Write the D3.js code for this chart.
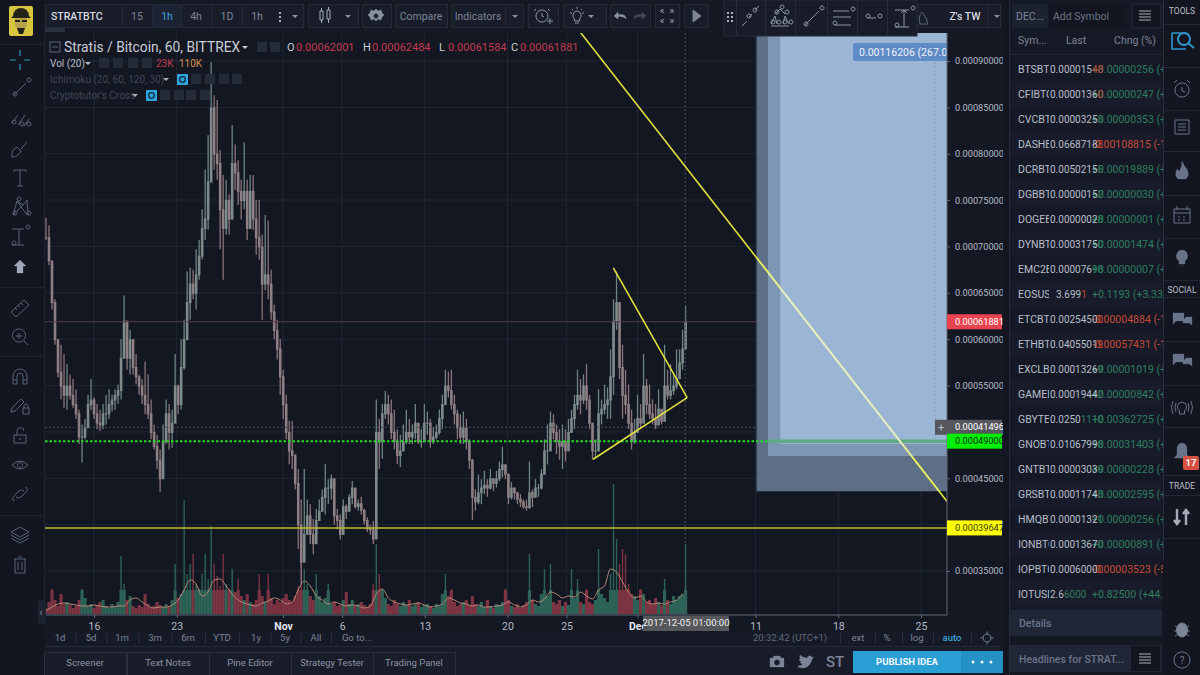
<!DOCTYPE html>
<html>
<head>
<meta charset="utf-8">
<title>Stratis / Bitcoin, 60, BITTREX</title>
<script src="https://d3js.org/d3.v7.min.js"></script>
<style>
  html, body { margin: 0; padding: 0; background: #141823; overflow: hidden; }
  text { font-family: Roboto, "Open Sans", sans-serif; }
</style>
</head>
<body>
<svg id="chart" width="1200" height="675"></svg>
<script>
// prices are in units of 0.00001 BTC, one bar every 6.1 hours
var barStart = Date.UTC(2017, 9, 11, 22, 30);
var barHours = 6.1;

var highs = [
  73.1,72.3,68.4,64.3,60,59.4,58.4,57.3,56.2,55.7,
  54.6,52.4,50.8,51.4,54,55.7,53.7,53,52.4,53,
  54,54.6,54,54.6,55.1,60,64.7,61.6,61,59.4,
  58.4,56.2,55.7,57.6,56.2,53.5,50.8,49.7,48.1,50.8,
  53.5,53,52.4,58.4,55.1,60,62.1,67.3,67.7,67.5,
  69.7,70.7,74,78.3,82,89.9,86.3,85.8,80.4,77.7,
  77.2,75.6,83.1,81,79.3,77.2,81.2,77.2,77.7,77.7,
  75,75,71.3,73.4,72.8,67.5,63.7,62.1,60,56.7,
  54,51.2,51.2,47.6,46,42.7,46,42.7,42.2,40.6,
  41.7,42.7,43.8,46.5,44.9,45.4,43.8,41.7,41.1,42.7,
  42.2,43.3,44.7,43.3,42.7,43,41.7,40.8,40,40.4,
  53.5,51.4,53,54.4,54,53.5,52.4,50.3,49.7,50.8,
  52.4,51.4,50.8,53,50.8,50.3,53,52.2,51.4,50.5,
  50.8,52.4,54,56.7,56.5,56.7,54,52.4,51.9,52.2,
  51.4,49.2,47.1,43.8,45.4,44.9,45.8,44.9,46,44.9,
  45.8,46.8,48.4,46.5,44.9,44.6,44,43.5,43.3,42.7,
  42.7,46.8,43.8,44.9,44.4,46,49.2,50.8,52.2,51.9,
  50.8,50.3,50.8,50.3,51.4,52.4,54,56.7,55.7,56.2,
  57.3,54,50.8,49.2,54.6,53.5,55.1,54.8,58.9,64.3,
  67.3,62.1,59.4,56.7,55.1,52.4,51.4,54,53,58.4,
  55.7,55.1,53.5,53,54.6,52.4,59.4,56.7,57.3,56.2,
  58.9,58.9,61,63.6
];
var lows = [
  70.7,68,63.2,59.4,55.9,53.5,52.6,52.4,53.5,52.6,
  51.4,48.7,46.7,49.2,50.8,52.4,51.4,50.3,50.1,50.3,
  50.8,51.4,52.2,52.4,53,53.5,59.4,56.7,56.2,56.2,
  55.1,54,53,51.9,51.4,49.2,48.1,46,43.5,45.4,
  48.7,48.1,48.3,51.4,51.9,52.4,56.7,61,62.1,64.3,
  63.2,66.4,68.6,70.7,71.8,80.4,78.3,77.2,69.7,66.4,
  71.3,71.3,75,76.1,74.5,72.9,74,70.7,72.3,71.8,
  69.1,68.6,62.1,65.3,64.3,62.1,60,57.8,54,51.4,
  49.2,46.5,46,43.8,37.4,33.6,36.8,39.5,37.9,36.8,
  38.4,40.6,41.7,41.1,42.2,42.7,40,39.5,38.4,41.1,
  40.6,41.7,42.2,41.7,41.5,41.1,40,39.2,38.9,37.9,
  39,46,47.1,51.4,50.8,49.2,48.1,46.5,46.2,48.1,
  48.7,48.7,48.7,49.2,48.7,48.3,49.2,49.7,48.3,48.7,
  49.2,49.7,50.3,53.5,53.7,52.4,50.8,49.2,48.7,48.7,
  48.1,46,40.5,41.5,42.2,42.2,43.3,43,43.8,43.6,
  44,44.7,45.1,44.9,42.2,42.7,42.7,42.2,41.9,41.7,
  41.5,41.7,41.9,43,43,43.8,45.4,46.5,48.1,49.2,
  47.6,47,46,46.8,48.1,50,50.3,52.4,51.9,53,
  52.4,50.3,47,47.3,48.1,50.8,51.9,51.4,51.4,54,
  61,55.7,51.4,51.9,50.3,48.1,48.7,50.3,50.3,52.4,
  51.9,51.4,50.8,50.3,51.4,50.8,51.9,53.5,53.5,54,
  54.6,56.2,56.7,60
];
var closes = [
  71,68.5,64,60,56.5,55,54,55,54,53,
  52,49.5,49.5,50.5,53,53.5,52,51,50.8,52,
  52,53,53.5,54,54.5,58,62,58,60,57,
  56,55,54,53,52,50,48.5,47,45,49,
  52,50,51,55,53,57,60,64,66,65,
  67,69,72,73,77,85,80,79,74,72,
  75,73,79,78,76,75,76,72,76,73,
  71,70,66,67,66,63,61,59,56,53,
  50,48,47.5,44.5,40,36,39,41,39,38,
  40.5,41.5,43,44,44,45,41,40.5,39,42,
  41.5,43,44,42,42.3,41.6,40.5,39.6,39.5,38.5,
  50,49,52,53,52,50,49,47.5,48,49,
  50,49.5,50,51,49,49,51,51,49,49.5,
  50,51.5,53,55,54.5,53,52,50.5,49.5,50.5,
  49,47,43,42.5,43.5,44,44.3,44,45,44.5,
  45,46,46.5,45.5,43,44,43.5,42.8,42.5,42,
  41.9,43.5,43,44,44,45.5,48,48,51,50,
  49,48.5,49,48,50,51.5,53,54,53.5,55,
  53.5,51,48,48,52,52.5,53,53.5,56,62,
  64,57,54,53,51,49,50,51.5,51,55,
  53,52,51.5,50.8,52.5,51.2,55,54,54.5,55,
  55.8,57.5,59,61.9
];
var volumes = [
  6,12,25,14,8,20,10,12,9,6,
  8,14,25,16,8,10,6,9,12,14,
  8,6,10,7,12,58,30,14,18,8,
  6,9,7,20,10,6,8,12,9,7,
  10,8,14,50,16,20,114,40,50,60,
  30,25,40,60,35,88,50,38,28,60,
  30,25,45,22,35,18,14,20,12,10,
  14,40,18,12,40,16,10,14,12,16,
  20,14,12,18,28,65,45,30,18,14,
  40,18,12,16,30,10,12,8,9,14,
  22,10,14,8,10,12,9,7,10,30,
  70,40,25,16,10,8,14,10,8,12,
  9,14,8,10,12,7,9,10,8,6,
  10,8,20,40,18,25,12,8,10,12,
  14,9,18,10,8,12,7,14,8,6,
  10,9,12,25,14,8,7,10,6,9,
  12,60,14,10,8,20,45,18,50,12,
  10,14,8,12,9,45,16,35,12,10,
  25,12,10,14,65,20,16,12,40,130,
  75,50,65,60,30,20,18,14,25,20,
  12,14,10,16,12,9,35,14,10,18,
  14,18,20,70
];
// volume average, one reading every second bar
var volumeAvg = [
  3,7,10,11,10,9,8,8,9,8,
  7,7,8,8,14,16,12,8,6,7,
  7,9,14,24,34,30,18,22,34,35,
  28,20,14,11,9,8,11,13,16,14,
  10,12,24,33,28,18,14,10,12,10,
  8,9,8,6,8,20,25,16,12,10,
  9,10,11,9,7,8,10,16,14,11,
  10,8,9,7,7,8,9,12,9,7,
  9,14,12,15,22,20,16,18,17,22,
  18,15,24,28,45,42,32,22,16,18,
  12,10,11,10,12,14,20
];

var priceTicks = [90, 85, 80, 75, 70, 65, 60, 55, 50, 45, 40, 35];
var dateTicks = ["2017-10-16", "2017-10-23", "2017-11-01", "2017-11-06", "2017-11-13", "2017-11-20",
                 "2017-11-25", "2017-12-01", "2017-12-11", "2017-12-18", "2017-12-25"];
var dateLabels = ["16", "23", "Nov", "6", "13", "20", "25", "Dec", "11", "18", "25"];

// drawings on the chart: dates and prices
var levelLast = 61.881, levelEntry = 49, levelStop = 39.647, levelCross = 50.5;
var crossDate = "2017-12-05T01:00Z";
var trendLines = [
  [["2017-11-26T04:00Z", 93.1], ["2017-12-28T06:00Z", 40.8]],
  [["2017-11-28T23:00Z", 67.7], ["2017-12-05T05:00Z", 53.7]],
  [["2017-11-27T06:00Z", 47.05], ["2017-12-05T05:00Z", 53.7]]
];
var boxStarts = ["2017-12-11T02:00Z", "2017-12-12T01:00Z", "2017-12-13T02:00Z"];
var boxBottoms = [43.6, 47.4, 48.7];
var boxFills = ["#5d6f86", "#7e96b3", "#9bb5d4"];
var boxLines = ["#e6ec66", "#e0e9a6", "#dfe9d6"];

// watchlist
var symbols = ["BTSBTC","CFIBTC","CVCBTC","DASHBTC","DCRBTC","DGBBTC","DOGEBTC","DYNBTC","EMC2BTC","EOSUSD","ETCBTC",
               "ETHBTC","EXCLBTC","GAMEBTC","GBYTEBTC","GNOBTC","GNTBTC","GRSBTC","HMQBTC","IONBTC","IOPBTC","IOTUSD"];
var lastHead = ["0.000015","0.0000136","0.0000325","0.0668718","0.0050215","0.0000015","0.0000002","0.0003175","0.000076","3.699","0.0025450",
                "0.0405501","0.0001326","0.0001944","0.0250","0.0106799","0.0000303","0.0001174","0.0000132","0.0001367","0.0006000","2.6"];
var lastTail = ["48","0","3","8","5","2","8","0","98","1","0","9","9","2","1110","8","9","3","1","0","0","6000"];
var tailUp = [0,0,1,0,1,1,1,1,1,0,0,0,1,1,1,1,1,1,1,1,0,1];
var changes = ["+0.00000256 (+19.8%)","+0.00000247 (+22.2%)","+0.00000353 (+12.2%)","-0.00108815 (-1.60%)","+0.00019889 (+4.12%)",
               "+0.00000030 (+24.6%)","+0.00000001 (+3.70%)","+0.00001474 (+4.87%)","+0.00000007 (+0.92%)","+0.1193 (+3.33%)",
               "-0.00004884 (-1.88%)","-0.00057431 (-1.40%)","+0.00001019 (+8.32%)","+0.00000842 (+4.53%)","+0.00362725 (+16.9%)",
               "+0.00031403 (+3.03%)","+0.00000228 (+8.11%)","+0.00002595 (+28.4%)","+0.00000256 (+24.0%)","+0.00000891 (+6.97%)",
               "-0.00003523 (-5.55%)","+0.82500 (+44.9%)"];

var intervals = ["15", "1h", "4h", "1D", "1h"];
var rangeLabels = ["1d", "5d", "1m", "3m", "6m", "YTD", "1y", "5y", "All", "Go to..."];
var tabLabels = ["Screener", "Text Notes", "Pine Editor", "Strategy Tester", "Trading Panel"];

var svg = d3.select("#chart");
var paneLeft = 45, paneRight = 947, paneTop = 33, paneBottom = 615;

var x = d3.scaleUtc().domain([new Date("2017-10-16"), new Date("2017-12-25")]).range([94, 921]);
var y = d3.scaleLinear().domain([90, 35]).range([61, 571]);
var yVol = d3.scaleLinear().domain([0, 130]).range([614, 484]);
var barDate = function(i) { return new Date(barStart + i * barHours * 3600000); };

function box(g, bx, by, w, h, fill, stroke) {
  return g.append("rect").attr("x", bx).attr("y", by).attr("width", w).attr("height", h)
    .attr("fill", fill).attr("stroke", stroke || "none");
}
function label(g, tx, ty, s, size, color, anchor, weight) {
  return g.append("text").attr("x", tx).attr("y", ty).attr("dy", "0.35em")
    .attr("text-anchor", anchor || "start").attr("font-size", size).attr("fill", color)
    .attr("font-weight", weight || 400).text(s);
}
function icon(g, cx, cy, d, color, fill, w) {
  return g.append("path").attr("transform", "translate(" + cx + "," + cy + ")").attr("d", d)
    .attr("fill", fill || "none").attr("stroke", color || "#69738a").attr("stroke-width", w || 1);
}
var defs = svg.append("defs");
function clip(id, cx, cy, w, h) {
  defs.append("clipPath").attr("id", id).append("rect").attr("x", cx).attr("y", cy).attr("width", w).attr("height", h);
  return "url(#" + id + ")";
}

box(svg, 0, 0, 1200, 675, "#141823");

// --- chart pane ---
box(svg, paneLeft, paneTop, paneRight - paneLeft, paneBottom - paneTop, "#131722");
var paneClip = clip("pane", paneLeft, paneTop, paneRight - paneLeft, paneBottom - paneTop);
var pane = svg.append("g").attr("clip-path", paneClip);

pane.append("g").selectAll("line").data(priceTicks).enter().append("line")
  .attr("x1", paneLeft).attr("x2", paneRight)
  .attr("y1", function(d) { return y(d); }).attr("y2", function(d) { return y(d); })
  .attr("stroke", "#212634");
pane.append("g").selectAll("line").data(dateTicks).enter().append("line")
  .attr("y1", paneTop).attr("y2", paneBottom)
  .attr("x1", function(d) { return x(new Date(d)); }).attr("x2", function(d) { return x(new Date(d)); })
  .attr("stroke", "#212634");

// volume: dense low part and thin spikes
var bars = d3.range(highs.length);
var isUp = function(i) { return i > 0 && closes[i] >= closes[i - 1]; };
var volColor = function(i) { return isUp(i) ? "#2d6356" : "#7c3342"; };
pane.append("g").selectAll("rect").data(bars).enter().append("rect")
  .attr("x", function(i) { return x(barDate(i)) - 0.7; }).attr("width", 1.4)
  .attr("y", function(i) { return yVol(volumes[i]); })
  .attr("height", function(i) { return yVol(0) - yVol(volumes[i]); })
  .attr("fill", volColor);
pane.append("g").selectAll("rect").data(bars).enter().append("rect")
  .attr("x", function(i) { return x(barDate(i)) - 1.6; }).attr("width", 3.2)
  .attr("y", function(i) { return yVol(Math.min(volumes[i], 24)); })
  .attr("height", function(i) { return yVol(0) - yVol(Math.min(volumes[i], 24)); })
  .attr("fill", volColor);
pane.append("path")
  .attr("d", d3.line().curve(d3.curveMonotoneX)
    .x(function(d, i) { return x(barDate(i * 2)); })
    .y(function(d) { return yVol(d); })(volumeAvg))
  .attr("fill", "none").attr("stroke", "#c4907a").attr("stroke-width", 0.9);

// candles
var candles = pane.append("g");
candles.selectAll("line").data(bars).enter().append("line")
  .attr("x1", function(i) { return x(barDate(i)); }).attr("x2", function(i) { return x(barDate(i)); })
  .attr("y1", function(i) { return y(highs[i]); }).attr("y2", function(i) { return y(lows[i]); })
  .attr("stroke", function(i) { return isUp(i) ? "#6e8482" : "#8a7379"; })
  .attr("stroke-width", 1.3);
candles.selectAll("rect").data(bars).enter().append("rect")
  .attr("x", function(i) { return x(barDate(i)) - 1.3; }).attr("width", 2.6)
  .attr("y", function(i) { return y(Math.max(closes[i], i ? closes[i - 1] : closes[i])); })
  .attr("height", function(i) { return Math.abs(y(closes[i]) - y(i ? closes[i - 1] : closes[i])) + 1; })
  .attr("fill", function(i) { return isUp(i) ? "#7f8a8b" : "#8d7f83"; });

// crosshair and level lines under the boxes
var dateX = function(s) { return x(new Date(s)); };
pane.append("line").attr("x1", paneLeft).attr("x2", paneRight).attr("y1", y(levelLast)).attr("y2", y(levelLast))
  .attr("stroke", "#563a48");
pane.append("line").attr("x1", paneLeft).attr("x2", paneRight).attr("y1", y(levelCross)).attr("y2", y(levelCross))
  .attr("stroke", "#4b5060").attr("stroke-dasharray", "2,2");
pane.append("line").attr("x1", dateX(crossDate)).attr("x2", dateX(crossDate)).attr("y1", paneTop).attr("y2", paneBottom)
  .attr("stroke", "#4b5060").attr("stroke-dasharray", "2,2");

// the long position boxes
boxStarts.forEach(function(s, k) {
  box(pane, dateX(s), paneTop, paneRight - dateX(s), y(boxBottoms[k]) - paneTop, boxFills[k]);
});
pane.append("line").attr("x1", 935).attr("x2", 935).attr("y1", 62).attr("y2", y(boxBottoms[2]))
  .attr("stroke", "#86a0c0").attr("stroke-dasharray", "2,2");

// green entry level, dashed on the dark part and solid on the boxes
pane.append("line").attr("x1", paneLeft).attr("x2", dateX(boxStarts[1])).attr("y1", y(levelEntry)).attr("y2", y(levelEntry))
  .attr("stroke", "#22dd22").attr("stroke-width", 2).attr("stroke-dasharray", "2.5,2");
pane.append("line").attr("x1", dateX(boxStarts[1])).attr("x2", paneRight).attr("y1", y(levelEntry)).attr("y2", y(levelEntry))
  .attr("stroke", "#62ab82").attr("stroke-width", 3.5);
pane.append("line").attr("x1", paneLeft).attr("x2", paneRight).attr("y1", y(levelStop)).attr("y2", y(levelStop))
  .attr("stroke", "#bcbc30").attr("stroke-width", 1.5);

// yellow trend lines
var seg = d3.line().x(function(d) { return dateX(d[0]); }).y(function(d) { return y(d[1]); });
trendLines.forEach(function(l) {
  pane.append("path").attr("d", seg(l)).attr("stroke", "#e0e03c").attr("stroke-width", 1.6).attr("fill", "none");
});
// the long line turns pale where it crosses the boxes
boxStarts.forEach(function(s, k) {
  var c = clip("bx" + k, dateX(s), paneTop, paneRight - dateX(s), y(boxBottoms[k]) - paneTop);
  pane.append("path").attr("d", seg(trendLines[0])).attr("clip-path", c)
    .attr("stroke", boxLines[k]).attr("stroke-width", 1.6).attr("fill", "none");
});

// profit label on top of the box
box(svg, 853, 43, 94, 18, "#5f8bc6").attr("rx", 2);
var profitClip = clip("profit", 853, 43, 94, 18);
label(svg.append("g").attr("clip-path", profitClip), 859, 52, "0.00116206 (267.06%)", 10.5, "#eef3fa");

// --- axes ---
svg.append("line").attr("x1", paneLeft).attr("x2", paneRight).attr("y1", paneBottom).attr("y2", paneBottom).attr("stroke", "#626878");
svg.append("line").attr("x1", paneRight).attr("x2", paneRight).attr("y1", paneTop).attr("y2", paneBottom).attr("stroke", "#626878");

var yAxis = svg.append("g").attr("transform", "translate(" + paneRight + ",0)")
  .call(d3.axisRight(y).tickValues(priceTicks).tickSize(3).tickFormat(function(d) { return (d / 1e5).toFixed(8); }));
var xAxis = svg.append("g").attr("transform", "translate(0," + paneBottom + ")")
  .call(d3.axisBottom(x).tickValues(dateTicks.map(function(d) { return new Date(d); })).tickSize(3)
    .tickFormat(function(d, i) { return dateLabels[i]; }));
[yAxis, xAxis].forEach(function(a) {
  a.select(".domain").remove();
  a.selectAll("line").attr("stroke", "#626878");
  a.selectAll("text").attr("fill", "#b4bac6").attr("font-family", "Roboto, sans-serif");
});
yAxis.selectAll("text").attr("font-size", 9.2).attr("x", 8);
xAxis.selectAll("text").attr("dy", "0.85em").attr("font-size", 10.5)
  .attr("fill", function(d, i) { return dateLabels[i] === "Nov" || dateLabels[i] === "Dec" ? "#e4e7ec" : "#b4bac6"; })
  .attr("font-weight", function(d, i) { return dateLabels[i] === "Nov" || dateLabels[i] === "Dec" ? 700 : 400; });

// price tags
function tag(price, fill, color, s) {
  box(svg, paneRight, y(price) - 7.5, 55, 15, fill);
  label(svg, paneRight + 8, y(price), s, 9.2, color);
}
tag(levelLast, "#e8434f", "#ffffff", "0.00061881");
tag(levelCross, "#55575d", "#ffffff", "0.00041496");
box(svg, paneRight - 12, y(levelCross) - 7.5, 12, 15, "#55575d");
label(svg, paneRight - 6, y(levelCross), "+", 11, "#b9bcc2", "middle");
tag(levelEntry, "#00ee00", "#12301a", "0.00049000");
tag(levelStop, "#ffff00", "#37381a", "0.00039647");

// date tag under the crosshair
box(svg, 643, 616, 86, 15, "#55575a");
label(svg, 686, 623, "2017-12-05 01:00:00", 9.5, "#f0f0f0", "middle");

// --- legend ---
box(svg, 50, 42, 10, 10, "none", "#5d6578");
svg.append("line").attr("x1", 52).attr("x2", 58).attr("y1", 47).attr("y2", 47).attr("stroke", "#5d6578");
label(svg, 64, 47, "Stratis / Bitcoin, 60, BITTREX", 13.8, "#c9cdd6");
svg.append("path").attr("d", "M242 46h6l-3 3z").attr("fill", "#c9cdd6");
[257, 270].forEach(function(b) { box(svg, b, 42, 10, 10, "#262b39"); });
[["O", 287, "0.00062001"], ["H", 363, "0.00062484"], ["L", 439, "0.00061584"], ["C", 511, "0.00061881"]].forEach(function(o) {
  label(svg, o[1], 47, o[0], 11, "#c9cdd6");
  label(svg, o[1] + 9, 47, o[2], 11, "#c23a50");
});
label(svg, 50, 63, "Vol (20)", 10, "#b4bac6");
svg.append("path").attr("d", "M85 62h6l-3 3z").attr("fill", "#b4bac6");
[99, 113, 128, 142].forEach(function(b) { box(svg, b, 58, 10, 10, "#252a38"); });
label(svg, 156, 63, "23K", 10, "#c23a50");
label(svg, 179, 63, "110K", 10, "#d98f50");
label(svg, 50, 79, "Ichimoku (20, 60, 120, 30)", 10, "#3f4658");
svg.append("path").attr("d", "M163 78h6l-3 3z").attr("fill", "#aab0bc");
box(svg, 177, 74, 11, 11, "#2da4dc");
[191, 205, 219, 232].forEach(function(b) { box(svg, b, 74, 10, 10, "#252a38"); });
label(svg, 50, 95, "Cryptotutor's Cross", 10, "#3f4658");
svg.append("path").attr("d", "M132 94h6l-3 3z").attr("fill", "#aab0bc");
box(svg, 146, 90, 11, 11, "#2da4dc");
[160, 174, 186, 200].forEach(function(b) { box(svg, b, 90, 10, 10, "#252a38"); });
[151.5, 182.5].forEach(function(b, k) {
  svg.append("circle").attr("cx", b).attr("cy", k ? 79.5 : 95.5).attr("r", 2.8).attr("fill", "none").attr("stroke", "#0d2a3a").attr("stroke-width", 1.3);
});

// --- top toolbar ---
var bar = svg.append("g");
box(bar, 45, 0, 955, 33, "#141823");
var groups = [[45, 77], [122, 181], [308, 50], [362, 29], [395, 52], [451, 72], [528, 30], [563, 43], [610, 40], [655, 24], [684, 24], [883, 117]];
groups.forEach(function(g) { box(bar, g[0] + 0.5, 4.5, g[1], 23, "#191d2a", "#242938"); });
box(bar, 45, 28, 20, 4, "#2a3040");
label(bar, 51, 16, "STRATBTC", 10.5, "#d7dae0", "start", 500);
var intervalX = [137, 167, 196, 227, 257];
box(bar, 152, 5, 30, 22, "#1e2333");
intervals.forEach(function(s, k) {
  label(bar, intervalX[k], 16, s, 10.5, k === 1 ? "#3aa3dd" : "#7c8496", "middle");
  if (k > 0) box(bar, intervalX[k] - 15, 5, 1, 22, "#242938");
});
[12, 16, 20].forEach(function(v) { box(bar, 279, v, 2, 2, "#aab0bc"); });
var caret = function(cx) { bar.append("path").attr("d", "M" + (cx - 3) + " 15h6l-3 3z").attr("fill", "#8a92a4"); };
[295, 348, 515, 591].forEach(caret);
icon(bar, 325, 16, "M-5-5h3v9h-3zM-3.5-8v3M-3.5 4v3M2-6h3v9h-3zM3.5-9v3M3.5 3v4", "#a4abb9");
icon(bar, 376, 16, "M0-7l2 2 3-1 1 3 2 2-2 2-1 3-3-1-2 2-2-2-3 1-1-3-2-2 2-2 1-3 3 1zM0-2.5a2.5 2.5 0 1 0 .01 0z", "#8a92a4", "#8a92a4", .5);
label(bar, 421, 16, "Compare", 10.5, "#7c8496", "middle");
label(bar, 478, 16, "Indicators", 10.5, "#7c8496", "middle");
box(bar, 505, 5, 1, 22, "#242938");
icon(bar, 542, 16, "M0-6a6 6 0 1 0 .01 0zM0-3v3l2 1M-6-7l-2 2M6-7l2 2M5 5h6M8 2v6", "#8a92a4");
icon(bar, 577, 16, "M0-5a4.5 4.5 0 0 0-2.5 8v2h5v-2a4.5 4.5 0 0 0-2.5-8zM-2 7h4M0-9v2M-7-3h2M5-3h2M-5-7l1 1M5-7l-1 1", "#8a92a4");
icon(bar, 620, 16, "M-6 0l4-4v2.5h3q5 0 5 4.5q-2-2.5-5-2.5h-3v2.5z", "#8a92a4", "#8a92a4", .4);
icon(bar, 640, 16, "M6 0l-4-4v2.5h-3q-5 0-5 4.5q2-2.5 5-2.5h3v2.5z", "#454b5c", "#454b5c", .4);
icon(bar, 667, 16, "M-6-6l3 3M-6-6h3M-6-6v3M6-6l-3 3M6-6h-3M6-6v3M-6 6l3-3M-6 6h3M-6 6v-3M6 6l-3-3M6 6h-3M6 6v-3", "#8a92a4");
icon(bar, 696, 16, "M-3-6l8 6-8 6z", "#7c8496", "#7c8496");

// floating drawing bar
box(bar, 724, 0, 193, 36, "#181c29", "#252a39");
[[727, 12], [731, 12], [727, 16], [731, 16], [727, 20], [731, 20]].forEach(function(d) { box(bar, d[0], d[1], 2, 2, "#aab0bc"); });
[736, 765, 795, 827, 857, 887].forEach(function(v) { box(bar, v, 0, 1, 36, "#252a39"); });
var dot = function(a, b) { return "M" + (a + 2) + " " + b + "a2 2 0 1 0-.01 0z"; };
icon(bar, 750, 18, "M-8 8l5-5" + dot(-3, 0) + "M-1-1l3-3" + dot(3, -6) + "M5-8l4-4", "#8d95a7");
icon(bar, 780, 18, "M-9 8h18" + dot(-9, 6) + dot(-3, 6) + dot(3, 6) + dot(9, 6) + dot(-5, -4) + dot(0, -9) + dot(5, -4) + "M-9 6l4-8M-3 6l-2-8M3 6l2-8M9 6l-4-8M-5-4l5-5M0-9l5 5", "#8d95a7");
icon(bar, 812, 18, "M-7 7l14-14" + dot(-8, 8) + dot(8, -8), "#8d95a7");
icon(bar, 842, 18, "M-9-7h16M-9-1h18M-7 7h16" + dot(9, -7) + dot(-9, 7), "#8d95a7");
icon(bar, 872, 18, "M-4 0h8" + dot(-6, 0) + dot(6, 0), "#8d95a7");
icon(bar, 904, 18, "M-9-8h14M-9 9h14M0-8v17M-3-5l3-3 3 3" + dot(7, -8) + dot(-9, 9), "#8d95a7");
icon(bar, 922, 18, "M-2 6q-2-8 2-12l4 6 2 6z", "#5a6274");
label(bar, 965, 16, "Z's TW", 10.5, "#d7dae0", "middle", 500);
box(bar, 988, 5, 1, 22, "#242938");
caret(997);

// --- left toolbar ---
var left = svg.append("g");
box(left, 0, 0, 44, 675, "#131620");
box(left, 44, 33, 1, 582, "#1f2433");
// avatar
box(left, 9, 6, 24, 30, "#d6c53d").attr("rx", 2);
left.append("path").attr("d", "M13 16q1-8 8-8t8 8l2 2h-20z").attr("fill", "#23231a");
left.append("path").attr("d", "M15 18h12v8q-6 8-12 0z").attr("fill", "#b5a24a");
left.append("path").attr("d", "M15 20h5v2h-5zM22 20h5v2h-5zM17 28h8l-2 6h-4z").attr("fill", "#23231a");
box(left, 0, 44, 44, 1, "#1c2130");
[287, 356, 515].forEach(function(v) { box(left, 0, v, 44, 1, "#1c2130"); });
var T = "#596278";
icon(left, 20, 60, "M0-10v6M0 4v6M-10 0h6M4 0h6", "#2e97b5", null, 1.2);
icon(left, 20, 89, "M-6 6l12-12" + dot(-7, 7) + dot(7, -7), T);
icon(left, 20, 119, "M-8 4l6-8M-2 6l7-10M4 7l5-7" + dot(-8, 5) + dot(0, 7) + dot(7, 7), T);
icon(left, 20, 149, "M-8 8q-1-7 5-10l4 4q-3 6-9 6zM1 0l6-7", T);
icon(left, 20, 178, "M-6-8h12M0-8v16M-3 8h6M-6-8v2M6-8v2", T);
icon(left, 20, 207, "M-7 8l4-14 6 4 4-5 1 15M-3-6l10 14M-7 8l10-10" + dot(-7, 8) + dot(-3, -6) + dot(7, 8), T);
icon(left, 20, 237, "M-8-8h12M-8 8h12M-1-8v16" + dot(6, -8) + dot(-8, 8), T);
icon(left, 20, 267, "M0-7l6 6h-3v7h-6v-7h-3z", "#9fa7b6", "#9fa7b6", .3);
icon(left, 20, 308, "M-9 4l13-12 5 5-13 12zM-5 0l2 2M-2-3l2 2M1-5l2 2", T);
icon(left, 20, 336, "M-1-7a6.5 6.5 0 1 0 .01 0zM-1-3v6M-4 0h6M4 5l4 4", T);
icon(left, 20, 376, "M-7 8v-8a7 7 0 0 1 14 0v8h-4v-8a3 3 0 0 0-6 0v8zM-7 4h4M3 4h4", T);
icon(left, 19, 405, "M-8 7l1-4 9-9 3 3-9 9zM4 3h6v6h-6zM5 3v-2a2 2 0 0 1 4 0v2", T);
icon(left, 20, 435, "M-6 0h12v8h-12zM-3 0v-4a3.5 3.5 0 0 1 7 0M0 3v2", T);
icon(left, 20, 465, "M-8 0q8-8 16 0q-8 8-16 0zM0-2.5a2.5 2.5 0 1 0 .01 0z", T);
icon(left, 20, 494, "M-6 7q-3-3 0-5l5-5q3-2 5 0M6-7q3 3 0 5l-5 5q-3 2-5 0", T);
icon(left, 20, 535, "M0-8l9 5-9 5-9-5zM-9 0l9 5 9-5M-9 3l9 5 9-5", T);
icon(left, 20, 565, "M-6-6h12M-5-6v14h10v-14M-2-8h4M-2-3v8M2-3v8", T);
box(left, 38, 600, 8, 24, "#1e2330").attr("rx", 3);
label(left, 41, 612, "‹", 10, "#8a92a4", "middle");

// --- bottom bars ---
var bot = svg.append("g");
box(bot, 45, 631, 955, 15, "#161a26");
box(bot, 45, 646, 955, 1, "#242938");
var rangeX = [60, 91, 122, 155, 188, 222, 256, 285, 316, 357];
rangeLabels.forEach(function(s, k) {
  label(bot, rangeX[k], 638, s, 9.5, "#7c8496", "middle");
  if (k < 9) box(bot, k === 8 ? 331 : (rangeX[k] + rangeX[k + 1]) / 2, 633, 1, 11, "#2a2f3e");
});
[[790, "20:32:42 (UTC+1)", "#5f677a"], [858, "ext", "#7c8496"], [887, "%", "#7c8496"], [917, "log", "#7c8496"], [952, "auto", "#3aa3dd"]].forEach(function(o) {
  label(bot, o[0], 638, o[1], 9.5, o[2], "middle", o[1] === "auto" ? 500 : 400);
});
[840, 875, 902, 933, 971].forEach(function(v) { box(bot, v, 633, 1, 11, "#2a2f3e"); });
icon(bot, 987, 638, "M0-4a4 4 0 1 0 .01 0zM0-6.5v2M0 4.5v2M-6.5 0h2M4.5 0h2", "#7c8496");

box(bot, 45, 647, 955, 28, "#181c29");
var tabX = [85, 168, 250, 332, 414];
tabLabels.forEach(function(s, k) {
  box(bot, tabX[k] - 40.5, 652.5, 82, 23, "#191d2a", "#2a2f3e");
  label(bot, tabX[k], 663, s, 9.5, "#8a92a4", "middle");
});
icon(bot, 777, 662, "M-7-4h3l1-2h6l1 2h3v9h-14zM0-2.5a3 3 0 1 0 .01 0z", "#7c8496", "#7c8496", .3);
icon(bot, 805, 662, "M-7 5q8 3 12-3q2-3 2-5l2-2-2 .5-1-1.5q-3-1-4 2q-4 0-7-3q-1 3 1 4l-2 0q1 3 3 3l-2 0q1 2 3 2q-2 2-5 2z", "#7c8496", "#7c8496", .3);
label(bot, 835, 662, "ST", 15, "#7c8496", "middle", 500);
box(bot, 853, 651, 108, 22, "#2a9fd6");
box(bot, 961, 651, 42, 22, "#2590c4");
label(bot, 907, 662, "PUBLISH IDEA", 9.5, "#f2f8fc", "middle", 700);
[973, 982, 991].forEach(function(v) { bot.append("circle").attr("cx", v).attr("cy", 662).attr("r", 1.5).attr("fill", "#f2f8fc"); });

// --- watchlist ---
var wl = svg.append("g");
box(wl, 1003, 0, 7, 675, "#131620");
box(wl, 1009, 0, 1, 675, "#252a39");
box(wl, 1010, 0, 152, 610, "#151926");
box(wl, 1012, 4, 36, 24, "#1d2231");
label(wl, 1030, 16, "DEC...", 10.5, "#7c8496", "middle");
box(wl, 1049, 4, 77, 24, "#131620");
label(wl, 1053, 16, "Add Symbol", 10.5, "#6a7284");
box(wl, 1132, 4, 29, 24, "#131620", "#242938");
var burger = "M-6-5h12M-6-2h12M-6 1h12M-6 4h12";
icon(wl, 1145, 16, burger, "#aab0bc");
label(wl, 1018, 40, "Sym...", 10.5, "#7c8496");
label(wl, 1076, 40, "Last", 10.5, "#7c8496", "middle");
label(wl, 1135, 40, "Chng (%)", 10.5, "#7c8496", "middle");
box(wl, 1010, 54, 152, 1, "#242938");

symbols.forEach(function(s, k) {
  var ry = 69 + k * 25;
  var clr = tailUp[k] ? "#2e7e5f" : "#c64a37";
  if (k % 2) box(wl, 1010, ry - 12.5, 152, 25, "#181c2a");
  var cc = clip("chg" + k, 1090, ry - 10, 73, 20);
  label(wl.append("g").attr("clip-path", cc), 1092, ry, changes[k], 10.5, changes[k][0] === "-" ? "#c64a37" : "#2e7e5f");
  var lx = symbols[k] === "EOSUSD" ? 1056 : 1050;
  var t = label(wl, lx, ry, null, 10, "#b9bec9");
  t.append("tspan").text(lastHead[k]);
  t.append("tspan").attr("fill", clr).text(lastTail[k]);
  var sc = clip("sym" + k, 1018, ry - 10, 31, 20);
  label(wl.append("g").attr("clip-path", sc), 1018, ry, s, 10.5, "#b9bec9");
});
box(wl, 1010, 610, 152, 26, "#212636");
label(wl, 1019, 623, "Details", 10.5, "#69738a", "start", 500);
box(wl, 1010, 645, 152, 27, "#212636");
label(wl, 1019, 659, "Headlines for STRAT...", 10.5, "#69738a", "start", 500);
box(wl, 1131, 646, 29, 25, "#131620");
icon(wl, 1145, 659, burger, "#aab0bc");

// --- far right toolbar ---
var side = svg.append("g");
box(side, 1163, 0, 37, 675, "#131620");
box(side, 1163, 0, 1, 560, "#2a2f3e");
[24, 67, 110, 151, 195, 238, 280, 297, 341, 385, 427, 475, 495, 538].forEach(function(v) { box(side, 1164, v, 36, 1, "#222736"); });
label(side, 1182, 11, "TOOLS", 8.5, "#b9bec9", "middle");
label(side, 1182, 290, "SOCIAL", 8.5, "#b9bec9", "middle");
label(side, 1182, 486, "TRADE", 8.5, "#b9bec9", "middle");
var S = "#69738a";
icon(side, 1180, 42, "M-8-9h9M-8-9v16h14", "#2e97d0", null, 1.6);
icon(side, 1184, 39, "M0-6a6 6 0 1 0 .01 0zM4 4l6 5", "#2e97d0", null, 1.8);
icon(side, 1182, 90, "M0-7a7 7 0 1 0 .01 0zM0-3v4l3 1M-8-7l3-3M8-7l-3-3", S);
icon(side, 1182, 127, "M-7-7h14v14h-14zM-4-3h8M-4 0h8M-4 3h8", S);
icon(side, 1182, 171, "M0-10q2 5 5 8q3 6-1 10h-8q-4-4-1-10q2 3 3 1q2-4 2-9z", S, S, .3);
icon(side, 1182, 215, "M-8-6h16v14h-16zM-8-2h16M-5-9v4M5-9v4M-4 2h2M1 2h2M-4 5h2M1 5h2", S);
icon(side, 1182, 258, "M0-8a6 6 0 0 0-3 11v3h6v-3a6 6 0 0 0-3-11zM-2 8h4", S, S, .3);
icon(side, 1182, 320, "M-9-7h11v8h-8l-3 3zM4-3h6v8l-3-2h-6v-3", S, S, .3);
icon(side, 1182, 361, "M-9-7h11v8h-8l-3 3zM4-3h6v8l-3-2h-6v-3", S, S, .3);
icon(side, 1182, 408, "M0-6a5 5 0 0 0-2.5 9v3h5v-3a5 5 0 0 0-2.5-9zM-9 6q-3-7 0-13M-6 4q-2-5 0-9M9 6q3-7 0-13M6 4q2-5 0-9", S);
icon(side, 1182, 452, "M0-9q5 0 5 7v5l3 3h-16l3-3v-5q0-7 5-7zM-2 7h4", S, S, .3);
box(side, 1183, 456, 16, 14, "#d95040").attr("rx", 2);
label(side, 1191, 463, "17", 9.5, "#f5f5f5", "middle", 700);
icon(side, 1182, 517, "M-5-8v15M-8 3l3 4 3-4M4 8v-15M1-3l3-4 3 4", "#a4abb9", null, 2.4);
icon(side, 1182, 630, "M0-7a5.5 7 0 1 0 .01 0zM-7-4l3 2M7-4l-3 2M-8 1h3M8 1h-3M-7 6l3-2M7 6l-3-2", "#7c8496", "#7c8496", .9);
icon(side, 1182, 660, "M0-8a8 8 0 1 0 .01 0z", S);
label(side, 1182, 660, "?", 10, S, "middle");
</script>
</body>
</html>
